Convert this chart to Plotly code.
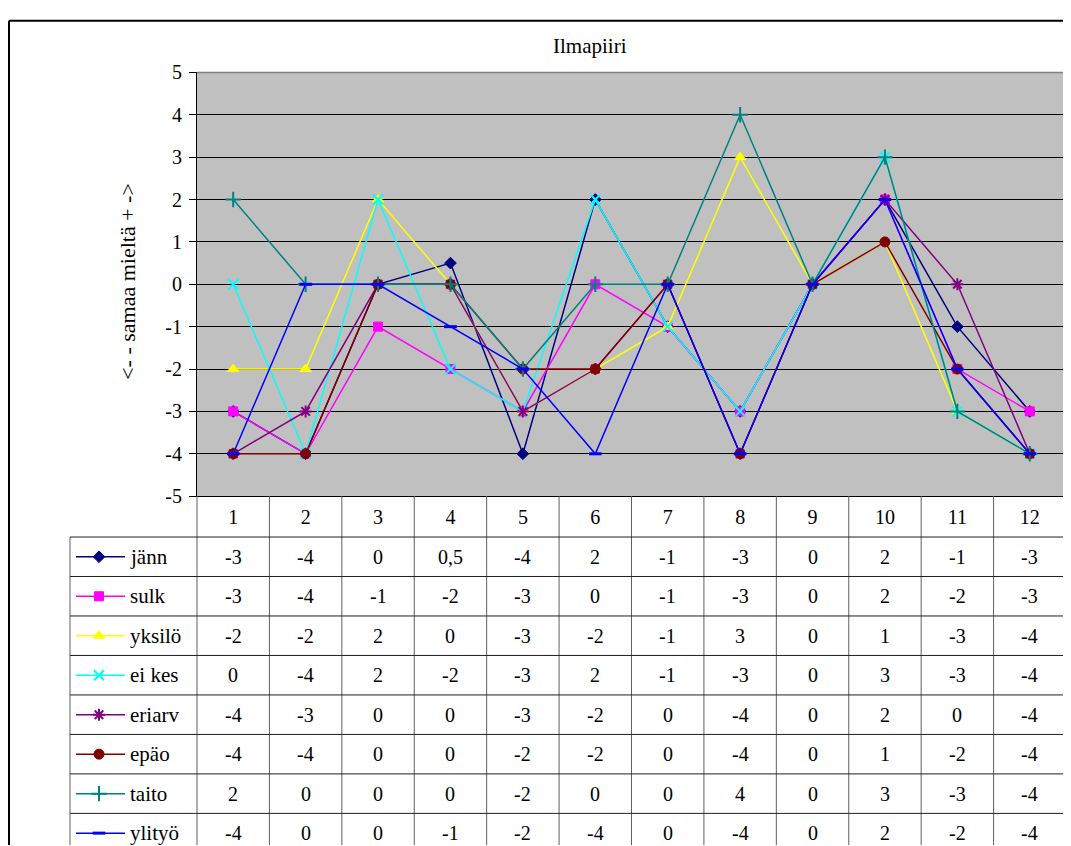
import plotly.graph_objects as go

# ---------------- data ----------------
categories = [1, 2, 3, 4, 5, 6, 7, 8, 9, 10, 11, 12]
series_names = ["jänn", "sulk", "yksilö", "ei kes", "eriarv", "epäo", "taito", "ylityö"]
jann = [-3, -4, 0, 0.5, -4, 2, -1, -3, 0, 2, -1, -3]
sulk = [-3, -4, -1, -2, -3, 0, -1, -3, 0, 2, -2, -3]
yksilo = [-2, -2, 2, 0, -3, -2, -1, 3, 0, 1, -3, -4]
ei_kes = [0, -4, 2, -2, -3, 2, -1, -3, 0, 3, -3, -4]
eriarv = [-4, -3, 0, 0, -3, -2, 0, -4, 0, 2, 0, -4]
epao = [-4, -4, 0, 0, -2, -2, 0, -4, 0, 1, -2, -4]
taito = [2, 0, 0, 0, -2, 0, 0, 4, 0, 3, -3, -4]
ylityo = [-4, 0, 0, -1, -2, -4, 0, -4, 0, 2, -2, -4]
series_values = [jann, sulk, yksilo, ei_kes, eriarv, epao, taito, ylityo]
y_tick_values = [5, 4, 3, 2, 1, 0, -1, -2, -3, -4, -5]
y_tick_labels = ["5", "4", "3", "2", "1", "0", "-1", "-2", "-3", "-4", "-5"]

# ---------------- styles ----------------
colors = ["#000080", "#FF00FF", "#FFFF00", "#00FFFF", "#800080", "#800000", "#008080", "#0000FF"]
symbols = ["diamond", "square", "triangle-up", "x-thin", "asterisk", "circle", "cross-thin", "line-ew"]
sizes = [9, 9, 10, 10, 10, 10, 11, 9]

OFF = 8                     # body margin of the page
W, H = 1060, 848
SERIF = "Liberation Serif, Times New Roman, serif"
FS = 20
VA, VB = 0.977, 9.6         # vertical page->photo mapping observed


def px(x):
    return min(1.0, max(0.0, (x - OFF) / W))


def py(t):
    s = (t - VB) / VA       # page y for a target photo y
    return min(1.0, max(0.0, 1 - (s - OFF) / H))


PLOT_L, PLOT_R, PLOT_T, PLOT_B = 197, 1066, 71, 496
TABLE_TOP = 537
ROW_H = 39.6
LEG_L = 70
BOTTOM_T = VA * (OFF + H) + VB


def marker_for(i):
    m = dict(symbol=symbols[i], size=sizes[i], color=colors[i],
             line=dict(color=colors[i], width=1))
    if symbols[i] in ("x-thin", "asterisk", "cross-thin", "line-ew"):
        m["line"] = dict(color=colors[i], width=2 if symbols[i] != "line-ew" else 3)
    return m


fig = go.Figure()

for i, name in enumerate(series_names):
    fig.add_trace(go.Scatter(
        x=categories, y=series_values[i], name=name, mode="lines+markers",
        line=dict(color=colors[i], width=1.5), marker=marker_for(i),
        showlegend=False, xaxis="x", yaxis="y", cliponaxis=False))

# legend keys inside the data table (own small axes)
for i, name in enumerate(series_names):
    yc = -(i + 0.5)
    fig.add_trace(go.Scatter(
        x=[6, 29, 55], y=[yc, yc, yc], mode="lines", line=dict(color=colors[i], width=1.5),
        showlegend=False, hoverinfo="skip", xaxis="x2", yaxis="y2", cliponaxis=False))
    fig.add_trace(go.Scatter(
        x=[29], y=[yc], mode="markers", marker=marker_for(i),
        showlegend=False, hoverinfo="skip", xaxis="x2", yaxis="y2", cliponaxis=False))

n_rows = len(series_names)

shapes = []
shapes.append(dict(type="rect", xref="paper", yref="paper", x0=px(LEG_L), x1=px(PLOT_L),
                   y0=0, y1=py(TABLE_TOP), fillcolor="white", line=dict(width=0), layer="below"))
shapes.append(dict(type="line", xref="paper", yref="paper", x0=px(PLOT_L), x1=px(PLOT_R),
                   y0=py(PLOT_T), y1=py(PLOT_T), line=dict(color="#808080", width=1.5)))
shapes.append(dict(type="line", xref="paper", yref="paper", x0=px(PLOT_R), x1=px(PLOT_R),
                   y0=py(PLOT_T), y1=py(PLOT_B), line=dict(color="#808080", width=1.5)))
for k in range(len(categories) + 1):
    xb = px(PLOT_L + (PLOT_R - PLOT_L) * k / len(categories))
    shapes.append(dict(type="line", xref="paper", yref="paper", x0=xb, x1=xb,
                       y0=py(PLOT_B), y1=0, line=dict(color="#606060", width=1)))
shapes.append(dict(type="line", xref="paper", yref="paper", x0=px(LEG_L), x1=px(LEG_L),
                   y0=py(TABLE_TOP), y1=0, line=dict(color="#606060", width=1)))
for r in range(n_rows + 1):
    yv = TABLE_TOP + ROW_H * r
    if yv > BOTTOM_T:
        continue
    yy = py(yv)
    shapes.append(dict(type="line", xref="paper", yref="paper", x0=px(LEG_L), x1=px(PLOT_R),
                       y0=yy, y1=yy, line=dict(color="#202020", width=1)))
# outer chart frame (left and top visible)
FRAME_Y = 0.998
shapes.append(dict(type="line", xref="paper", yref="paper", x0=px(9), x1=px(9),
                   y0=FRAME_Y, y1=0, line=dict(color="black", width=2)))
shapes.append(dict(type="line", xref="paper", yref="paper", x0=px(9), x1=1,
                   y0=FRAME_Y, y1=FRAME_Y, line=dict(color="black", width=2)))

annotations = []
annotations.append(dict(text="Ilmapiiri", x=px(590), y=py(44), xref="paper", yref="paper",
                        xanchor="center", yanchor="middle",
                        showarrow=False, font=dict(family=SERIF, size=21, color="black")))
annotations.append(dict(text="<- - samaa mieltä + ->", x=px(128), y=py(281), xref="paper", yref="paper",
                        xanchor="center", yanchor="middle",
                        textangle=-90, showarrow=False, font=dict(family=SERIF, size=22, color="black")))


def fmt(v):
    return ("%g" % v).replace(".", ",")


for i, name in enumerate(series_names):
    yc = py(TABLE_TOP + ROW_H * (i + 0.5))
    annotations.append(dict(text=name, x=px(128), y=yc, xref="paper", yref="paper",
                            xanchor="left", yanchor="middle",
                            showarrow=False, font=dict(family=SERIF, size=21, color="black")))
    for c, v in zip(categories, series_values[i]):
        annotations.append(dict(text=fmt(v), x=c, y=yc, xref="x", yref="paper",
                                xanchor="center", yanchor="middle",
                                showarrow=False, font=dict(family=SERIF, size=FS, color="black")))

fig.update_layout(
    width=W, height=H,
    margin=dict(l=0, r=0, t=0, b=0),
    paper_bgcolor="white",
    plot_bgcolor="#C0C0C0",
    xaxis=dict(domain=[px(PLOT_L), px(PLOT_R)], range=[0.5, 12.5], tickmode="array",
               tickvals=categories, ticktext=[str(c) for c in categories], ticks="",
               showgrid=False, zeroline=False, showline=True, linecolor="black", linewidth=1,
               ticklabelstandoff=3, tickfont=dict(family=SERIF, size=FS, color="black"), fixedrange=True),
    yaxis=dict(domain=[py(PLOT_B), py(PLOT_T)], range=[-5, 5], tickmode="array",
               tickvals=y_tick_values, ticktext=y_tick_labels, ticks="outside", ticklen=7,
               tickcolor="black", showgrid=True, gridcolor="black", gridwidth=1, zeroline=False,
               showline=True, linecolor="black", linewidth=1, ticklabelstandoff=3,
               tickfont=dict(family=SERIF, size=FS, color="black"), fixedrange=True),
    xaxis2=dict(domain=[px(LEG_L), px(PLOT_L)], range=[0, PLOT_L - LEG_L], visible=False,
                anchor="y2", fixedrange=True),
    yaxis2=dict(domain=[0, py(TABLE_TOP)], range=[-(BOTTOM_T - TABLE_TOP) / ROW_H, 0], visible=False,
                anchor="x2", fixedrange=True),
    shapes=shapes,
    annotations=annotations,
)

fig.write_html("out.html")
